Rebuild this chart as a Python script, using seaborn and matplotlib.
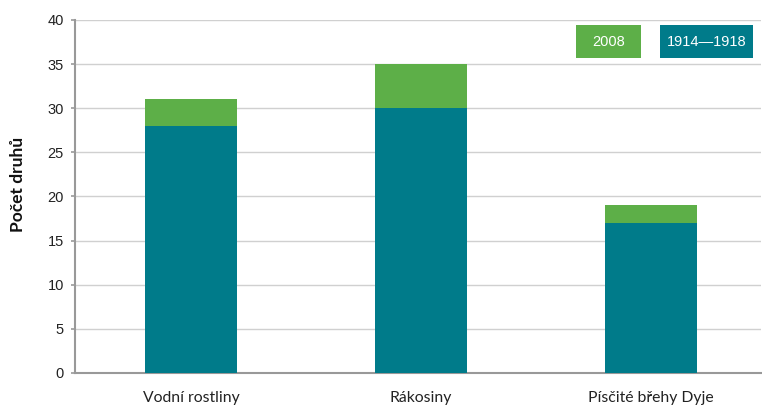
import matplotlib
matplotlib.use("Agg")
import matplotlib.pyplot as plt
import seaborn as sns
import pandas as pd
from matplotlib.patches import Rectangle

categories = ["Vodní rostliny", "Rákosiny", "Písčité břehy Dyje"]
values_1914 = [28, 30, 17]
values_2008_extra = [3, 5, 2]
yticks = [0, 5, 10, 15, 20, 25, 30, 35, 40]

TEAL = "#007B8A"
GREEN = "#5DAF48"

totals = [a + b for a, b in zip(values_1914, values_2008_extra)]
df = pd.DataFrame({"cat": categories, "base": values_1914, "total": totals})

sns.set_theme(style="white")
plt.rcParams["font.family"] = ["Liberation Sans", "DejaVu Sans"]

fig = plt.figure(figsize=(7.62, 4.05), dpi=100)
ax = fig.add_axes([75 / 762, 32 / 405, 686 / 762, 353 / 405])

sns.barplot(data=df, x="cat", y="total", color=GREEN, saturation=1, width=0.4, ax=ax,
            zorder=3, linewidth=0, edgecolor="none")
sns.barplot(data=df, x="cat", y="base", color=TEAL, saturation=1, width=0.4, ax=ax,
            zorder=3, linewidth=0, edgecolor="none")

ax.set_ylim(0, 40)
ax.set_xlim(-0.505, 2.48)
ax.set_yticks(yticks)
ax.set_yticklabels([str(t) for t in yticks], fontsize=10.5, color="#222222")
ax.grid(axis="y", color="#d0d0d0", linewidth=1, zorder=0)
ax.set_axisbelow(True)
for s in ["top", "right"]:
    ax.spines[s].set_visible(False)
for s in ["left", "bottom"]:
    ax.spines[s].set_color("#999999")
    ax.spines[s].set_linewidth(1.5)
ax.tick_params(axis="y", left=True, length=3, width=1.2, color="#999999", pad=5)
ax.tick_params(axis="x", bottom=False, pad=7)
for lab in ax.get_xticklabels():
    lab.set_fontfamily(["Lato", "DejaVu Sans"])
    lab.set_fontsize(11.3)
    lab.set_color("#222222")
ax.set_xlabel("")
ax.set_ylabel("Počet druhů", fontsize=12.5, fontweight="bold", family=["Lato", "DejaVu Sans"],
              color="#111111", va="center")
ax.yaxis.set_label_coords(-0.083, 0.535)

# legend boxes
boxes = [("2008", GREEN, 0.730, 0.825), ("1914—1918", TEAL, 0.853, 0.988)]
for text, col, x0, x1 in boxes:
    ax.add_patch(Rectangle((x0, 0.892), x1 - x0, 0.094, transform=ax.transAxes,
                           facecolor=col, edgecolor="none", zorder=5, clip_on=False))
    ax.text((x0 + x1) / 2, 0.939, text, transform=ax.transAxes, ha="center", va="center",
            color="white", fontsize=10.5, zorder=6)

fig.savefig("out.png", dpi=100)
